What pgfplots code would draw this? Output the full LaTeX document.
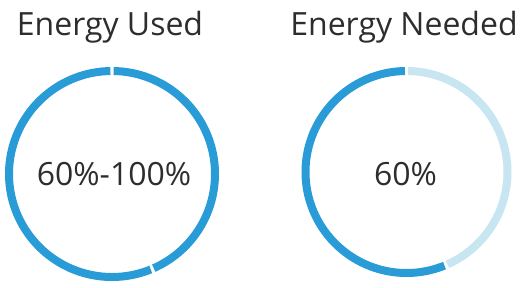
\documentclass[border=0pt]{standalone}
\usepackage{fontspec}
\setmainfont{Open Sans}
\usepackage{pgfplots}
\pgfplotsset{compat=1.18}
\definecolor{ringblue}{RGB}{41,155,214}
\definecolor{ringlight}{RGB}{199,230,242}
\definecolor{txt}{RGB}{45,45,45}
\pgfplotsset{ring/.style={width=214pt,height=214pt,scale only axis,
  xmin=-107,xmax=107,ymin=-107,ymax=107,hide axis,clip=false,anchor=center}}
\begin{document}
\begin{tikzpicture}[x=1pt,y=1pt]
\useasboundingbox (0,0) rectangle (527,-287);
% Energy Used: segments (clockwise degrees from top)
\begin{axis}[ring, at={(112pt,-174pt)}]
\addplot[ringblue, line width=8pt, no markers, domain=0.9:156.1, samples=90, variable=\t] ({103*sin(\t)},{103*cos(\t)});
\addplot[ringblue, line width=8pt, no markers, domain=157.9:359.1, samples=110, variable=\t] ({103*sin(\t)},{103*cos(\t)});
\end{axis}
% Energy Needed
\begin{axis}[ring, at={(406.5pt,-172pt)}]
\addplot[ringlight, line width=8pt, no markers, domain=0.9:156.1, samples=90, variable=\t] ({101*sin(\t)},{101*cos(\t)});
\addplot[ringblue, line width=8pt, no markers, domain=157.9:359.1, samples=110, variable=\t] ({101*sin(\t)},{101*cos(\t)});
\end{axis}
\node[anchor=base, font=\fontsize{32}{36}\selectfont, text=txt, inner sep=0] at (110,-35) {Energy Used};
\node[anchor=base, font=\fontsize{32}{36}\selectfont, text=txt, inner sep=0] at (404,-35) {Energy Needed};
\node[anchor=base, font=\fontsize{32}{36}\selectfont, text=txt, inner sep=0] at (114,-185) {60\%-100\%};
\node[anchor=base, font=\fontsize{32}{36}\selectfont, text=txt, inner sep=0] at (405.5,-185) {60\%};
\end{tikzpicture}
\end{document}
